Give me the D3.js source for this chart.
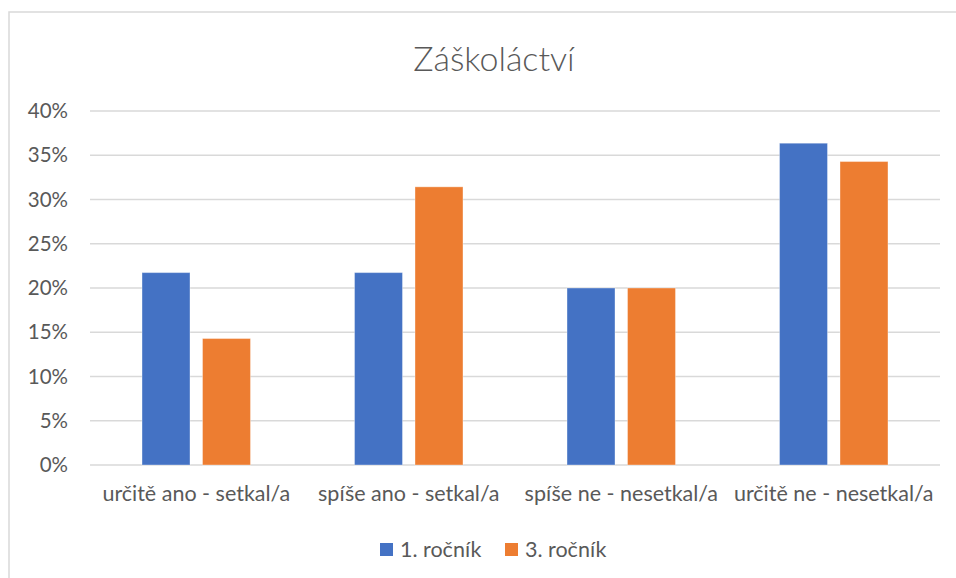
<!DOCTYPE html>
<html>
<head>
<meta charset="utf-8">
<script src="https://cdn.jsdelivr.net/npm/d3@7"></script>
<style>
  body { margin: 0; background: #fff; }
  text { font-family: Lato, "Open Sans", sans-serif; fill: #595959; }
</style>
</head>
<body>
<div id="plotDiv"></div>
<script>
var categories = ["určitě ano - setkal/a", "spíše ano - setkal/a", "spíše ne - nesetkal/a", "určitě ne - nesetkal/a"];
var seriesNames = ["1. ročník", "3. ročník"];
var rocnik1 = [0.2174, 0.2174, 0.2000, 0.3636];
var rocnik3 = [0.1429, 0.3143, 0.2000, 0.3429];
var yTicks = [0, 0.05, 0.10, 0.15, 0.20, 0.25, 0.30, 0.35, 0.40];
var colors = ["#4472c4", "#ed7d31"];

var width = 956, height = 578;
var margin = {top: 111, right: 16, bottom: 113, left: 90};

var svg = d3.select("#plotDiv")
    .append("svg")
    .attr("width", width)
    .attr("height", height);

// chart frame (runs off the right / bottom edges)
svg.append("rect")
    .attr("x", 9).attr("y", 12)
    .attr("width", 980).attr("height", 600)
    .attr("fill", "#fff")
    .attr("stroke", "#d9d9d9")
    .attr("stroke-width", 1.5);

var x = d3.scaleBand()
    .domain(categories)
    .range([margin.left, width - margin.right]);

var x1 = d3.scaleBand()
    .domain(seriesNames)
    .range([0, x.bandwidth()])
    .paddingInner(0.207)
    .paddingOuter(0.86);

var y = d3.scaleLinear()
    .domain([0, 0.4])
    .range([height - margin.bottom, margin.top]);

// gridlines
svg.append("g")
    .selectAll("line")
    .data(yTicks)
    .enter()
    .append("line")
    .attr("x1", margin.left)
    .attr("x2", width - margin.right)
    .attr("y1", d => y(d))
    .attr("y2", d => y(d))
    .attr("stroke", "#d9d9d9")
    .attr("stroke-width", 1.5);

// y axis labels
var yAxis = d3.axisLeft(y)
    .tickValues(yTicks)
    .tickFormat(d3.format(".0%"))
    .tickSize(0)
    .tickPadding(0);

svg.append("g")
    .attr("transform", "translate(68,0)")
    .call(yAxis)
    .call(g => g.select(".domain").remove())
    .selectAll("text")
    .attr("font-size", 20.5)
    .style("font-family", "Lato, sans-serif")
    .attr("fill", "#595959");

// bars
var data = categories.map((c, i) => ({cat: c, vals: [rocnik1[i], rocnik3[i]]}));

var groups = svg.append("g")
    .selectAll("g")
    .data(data)
    .enter()
    .append("g")
    .attr("transform", d => "translate(" + x(d.cat) + ",0)");

groups.selectAll("rect")
    .data(d => d.vals.map((v, j) => ({s: seriesNames[j], v: v, j: j})))
    .enter()
    .append("rect")
    .attr("x", d => x1(d.s))
    .attr("width", x1.bandwidth())
    .attr("y", d => y(d.v))
    .attr("height", d => y(0) - y(d.v))
    .attr("fill", d => colors[d.j])
    .attr("stroke", "rgba(255,255,255,0.35)")
    .attr("stroke-width", 1);

// x axis labels
var xAxis = d3.axisBottom(x)
    .tickSize(0)
    .tickPadding(0);

svg.append("g")
    .attr("transform", "translate(0,486)")
    .call(xAxis)
    .call(g => g.select(".domain").remove())
    .selectAll("text")
    .attr("font-size", 21.5)
    .style("font-family", "Lato, sans-serif")
    .attr("fill", "#595959");

// title
svg.append("text")
    .attr("x", 494)
    .attr("y", 71)
    .attr("text-anchor", "middle")
    .attr("font-size", 34)
    .style("font-weight", 300)
    .text("Záškoláctví");

// legend
var legendX = [380, 505];
var legend = svg.append("g")
    .selectAll("g")
    .data(seriesNames)
    .enter()
    .append("g")
    .attr("transform", (d, i) => "translate(" + legendX[i] + ",543)");

legend.append("rect")
    .attr("width", 13)
    .attr("height", 13)
    .attr("fill", (d, i) => colors[i]);

legend.append("text")
    .attr("x", 20)
    .attr("y", 14)
    .attr("font-size", 21.5)
    .text(d => d);
</script>
</body>
</html>
